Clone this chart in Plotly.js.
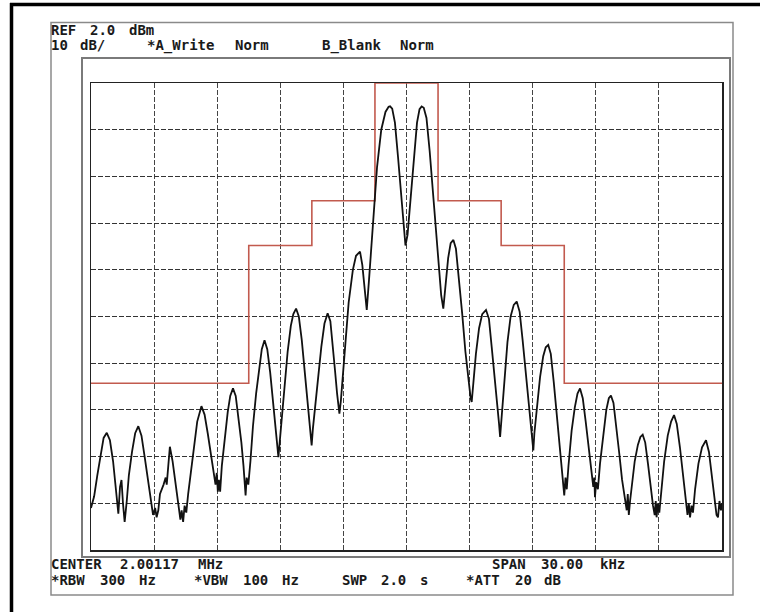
<!DOCTYPE html>
<html>
<head>
<meta charset="utf-8">
<script src="https://cdn.plot.ly/plotly-3.0.1.min.js"></script>
<style>
html,body{margin:0;padding:0;background:#fff;}
#chart{width:760px;height:612px;}
</style>
</head>
<body>
<div id="chart"></div>
<script>
// ---- Data (frequency offset from centre in kHz, level in dBm) ----
const centerMHz = 2.00117;
const spanKHz = 30;
const refLevelDBm = 2.0;
const dbPerDiv = 10;

const maskFreqKHz  = [-15, -7.5, -7.5, -4.5, -4.5, -1.5, -1.5, 1.5, 1.5, 4.5, 4.5, 7.5, 7.5, 15];
const maskLevelDBm = [-62.3, -62.3, -32.8, -32.8, -23.2, -23.2, 2, 2, -23.2, -23.2, -32.8, -32.8, -62.3, -62.3];

const traceFreqKHz = [
 -15.00,-14.85,-14.70,-14.55,-14.40,-14.25,-14.10,-13.95,-13.80,-13.70,-13.62,-13.55,-13.48,-13.40,-13.30,-13.20,-13.05,-12.90,-12.75,-12.60,
 -12.45,-12.30,-12.15,-12.05,-11.95,-11.88,-11.80,-11.72,-11.55,-11.45,-11.40,-11.35,-11.25,-11.12,-10.98,-10.85,-10.75,-10.69,-10.62,-10.55,
 -10.47,-10.38,-10.25,-10.10,-9.95,-9.75,-9.60,-9.45,-9.30,-9.15,-9.08,-9.02,-8.97,-8.92,-8.86,-8.78,-8.65,-8.50,-8.38,-8.25,
 -8.12,-7.98,-7.85,-7.75,-7.68,-7.65,-7.60,-7.52,-7.42,-7.30,-7.15,-7.00,-6.88,-6.75,-6.62,-6.48,-6.35,-6.22,-6.12,-6.09,
 -6.04,-5.95,-5.80,-5.65,-5.50,-5.38,-5.25,-5.12,-4.98,-4.85,-4.72,-4.60,-4.51,-4.45,-4.35,-4.20,-4.05,-3.90,-3.75,-3.62,
 -3.50,-3.40,-3.30,-3.19,-3.12,-3.05,-2.90,-2.75,-2.55,-2.40,-2.21,-2.10,-1.98,-1.89,-1.78,-1.60,-1.40,-1.20,-1.00,-0.85,
 -0.78,-0.68,-0.55,-0.40,-0.25,-0.12,-0.05,0.05,0.20,0.35,0.50,0.62,0.72,0.82,0.95,1.10,1.30,1.50,1.65,1.75,
 1.85,1.98,2.10,2.23,2.35,2.50,2.65,2.80,2.95,3.05,3.10,3.16,3.30,3.45,3.60,3.78,3.92,4.05,4.20,4.32,
 4.40,4.45,4.52,4.65,4.80,4.95,5.10,5.24,5.38,5.52,5.68,5.85,5.97,6.03,6.08,6.20,6.35,6.50,6.62,6.74,
 6.86,7.00,7.15,7.30,7.42,7.50,7.56,7.62,7.70,7.85,8.00,8.13,8.25,8.38,8.52,8.65,8.78,8.88,8.93,8.96,
 9.02,9.10,9.20,9.35,9.50,9.62,9.72,9.84,9.98,10.12,10.25,10.35,10.42,10.47,10.52,10.57,10.63,10.72,10.85,11.00,
 11.12,11.23,11.35,11.48,11.60,11.72,11.80,11.85,11.89,11.95,12.02,12.10,12.25,12.42,12.58,12.72,12.85,13.00,13.15,13.28,
 13.36,13.42,13.48,13.55,13.62,13.72,13.88,14.05,14.24,14.38,14.52,14.65,14.74,14.81,14.88,14.95,15.00
];
const traceLevelDBm = [
 -89.0,-86.5,-82.0,-77.5,-74.0,-72.9,-74.5,-79.0,-85.0,-90.2,-84.5,-83.0,-88.0,-92.0,-87.5,-82.0,-77.0,-73.0,-71.5,-73.5,
 -78.0,-83.0,-87.5,-90.5,-89.0,-91.0,-89.5,-86.0,-84.0,-82.5,-84.0,-80.5,-75.9,-79.0,-84.0,-88.5,-91.5,-89.5,-92.0,-88.5,
 -90.0,-86.0,-81.0,-75.5,-70.5,-67.2,-69.0,-73.0,-77.5,-81.5,-84.0,-81.5,-85.5,-83.0,-85.5,-80.0,-74.0,-68.5,-65.0,-63.4,
 -65.0,-70.0,-75.0,-80.0,-83.5,-86.3,-82.5,-84.0,-79.0,-71.5,-64.5,-58.5,-55.0,-53.1,-55.0,-60.0,-66.5,-72.5,-76.5,-78.1,
 -75.5,-70.5,-62.5,-55.5,-50.0,-47.5,-46.3,-48.0,-53.0,-59.5,-66.5,-72.5,-75.6,-72.0,-67.5,-61.0,-54.5,-49.5,-47.3,-49.0,
 -54.0,-59.5,-64.5,-68.8,-66.0,-62.5,-53.5,-45.0,-38.0,-35.0,-34.1,-37.0,-42.5,-46.6,-40.0,-28.0,-16.0,-8.0,-4.2,-3.1,
 -3.0,-3.5,-6.5,-14.0,-22.5,-29.5,-32.8,-30.5,-22.0,-13.5,-6.5,-3.6,-3.0,-3.3,-5.5,-12.5,-24.0,-36.5,-43.5,-46.3,
 -42.0,-35.5,-32.3,-31.6,-33.5,-40.0,-47.5,-55.5,-62.0,-65.5,-66.3,-63.0,-56.0,-50.5,-47.5,-46.6,-48.5,-54.5,-61.0,-67.5,
 -71.0,-73.8,-70.0,-62.0,-53.5,-48.0,-45.5,-44.8,-47.0,-53.0,-60.5,-68.0,-73.5,-76.7,-73.0,-67.0,-61.0,-56.5,-54.6,-54.1,
 -56.0,-62.0,-69.5,-77.0,-82.0,-86.3,-82.5,-85.0,-80.0,-72.5,-67.5,-64.5,-63.4,-65.5,-70.5,-76.0,-81.0,-84.5,-82.5,-86.7,
 -83.5,-85.0,-79.5,-73.0,-68.0,-65.5,-64.9,-66.5,-71.5,-77.5,-83.0,-86.5,-88.5,-89.5,-86.0,-90.5,-87.5,-84.0,-79.0,-75.5,
 -73.8,-73.3,-75.0,-79.5,-84.5,-88.5,-90.5,-87.5,-91.0,-88.0,-90.0,-85.5,-79.0,-73.5,-70.5,-69.1,-71.0,-76.0,-82.0,-87.5,
 -90.5,-88.0,-91.0,-88.5,-90.0,-85.0,-79.5,-76.0,-74.5,-77.0,-82.0,-87.0,-90.5,-91.0,-87.5,-89.5,-88.0
];

const headerLine1 = ["REF 2.0 dBm"];
const headerLine2 = ["10 dB/", "*A_Write Norm", "B_Blank Norm"];
const footerLine1 = ["CENTER 2.00117 MHz", "SPAN 30.00 kHz"];
const footerLine2 = ["*RBW 300 Hz", "*VBW 100 Hz", "SWP 2.0 s", "*ATT 20 dB"];

// ---- Layout geometry (pixels) ----
const W = 760, H = 612;
const M = {l: 91, r: 38, t: 83, b: 62};
const PW = W - M.l - M.r, PH = H - M.t - M.b;
const px = v => (v - M.l) / PW;
const py = v => (H - M.b - v) / PH;

// analyser character pitch (px per character cell)
const PITCH = 9.8;
const textFont = {family: 'DejaVu Sans Mono, Liberation Mono, monospace', size: 14, color: '#1a1a1a', weight: 'bold'};

// place a text chunk word by word on the analyser's character grid
function chunk(text, x, y) {
  const out = [];
  let idx = 0;
  text.split(' ').forEach(word => {
    if (word.length) {
      out.push({text: word, xref: 'paper', yref: 'paper', x: px(x + idx * PITCH), y: py(y),
                xanchor: 'left', yanchor: 'middle', showarrow: false, font: textFont, borderpad: 0});
    }
    idx += word.length + 1;
  });
  return out;
}

const annotations = [].concat(
  chunk(headerLine1[0], 50, 30),
  chunk(headerLine2[0], 50, 45),
  chunk(headerLine2[1], 146, 45),
  chunk(headerLine2[2], 321, 45),
  chunk(footerLine1[0], 50, 564),
  chunk(footerLine1[1], 491, 564),
  chunk(footerLine2[0], 50, 580),
  chunk(footerLine2[1], 193, 580),
  chunk(footerLine2[2], 341, 580),
  chunk(footerLine2[3], 465, 580)
);

const shapes = [
  // outer black border (top & left)
  {type: 'line', xref: 'paper', yref: 'paper', x0: px(10), x1: px(760), y0: py(4.5), y1: py(4.5),
   line: {color: '#000', width: 3.5}},
  {type: 'line', xref: 'paper', yref: 'paper', x0: px(11.5), x1: px(11.5), y0: py(3), y1: py(612),
   line: {color: '#000', width: 3.5}},
  // analyser screen frame
  {type: 'rect', xref: 'paper', yref: 'paper', x0: px(51), x1: px(733), y0: py(595), y1: py(22.5),
   line: {color: '#8a8a8a', width: 1.5}},
  // graticule surround
  {type: 'rect', xref: 'paper', yref: 'paper', x0: px(82), x1: px(730), y0: py(557), y1: py(58),
   line: {color: '#7a7a7a', width: 2}}
];

const traces = [
  {x: maskFreqKHz, y: maskLevelDBm, type: 'scatter', mode: 'lines',
   line: {color: '#c25a4e', width: 1.6}, cliponaxis: false, hoverinfo: 'skip'},
  {x: traceFreqKHz, y: traceLevelDBm, type: 'scatter', mode: 'lines',
   line: {color: '#111', width: 1.8}, hoverinfo: 'skip'}
];

const layout = {
  width: W, height: H,
  margin: M,
  paper_bgcolor: '#fff', plot_bgcolor: '#fff',
  showlegend: false,
  xaxis: {range: [-spanKHz/2, spanKHz/2], tick0: -15, dtick: 3, showticklabels: false, ticks: '',
          showgrid: true, gridcolor: '#444', gridwidth: 1, griddash: '5px,2px',
          zeroline: false, showline: true, mirror: true, linecolor: '#222', linewidth: 1.5, fixedrange: true},
  yaxis: {range: [refLevelDBm - 10*dbPerDiv, refLevelDBm], tick0: 2, dtick: dbPerDiv, showticklabels: false, ticks: '',
          showgrid: true, gridcolor: '#333', gridwidth: 1, griddash: '5px,2px',
          zeroline: false, showline: true, mirror: true, linecolor: '#222', linewidth: 1.5, fixedrange: true},
  shapes: shapes,
  annotations: annotations
};

Plotly.newPlot('chart', traces, layout, {staticPlot: true, displayModeBar: false});
</script>
</body>
</html>
